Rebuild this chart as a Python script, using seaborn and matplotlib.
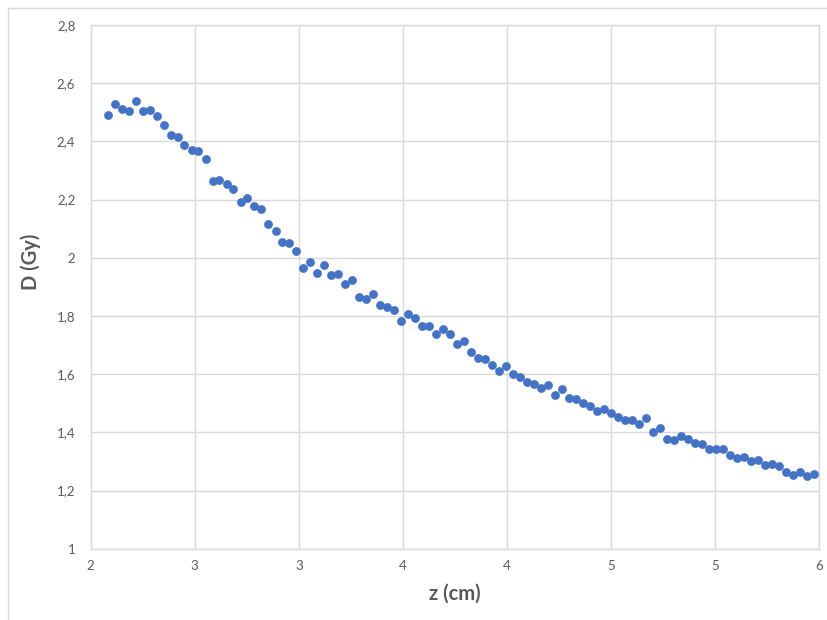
import numpy as np
import pandas as pd
import seaborn as sns
import matplotlib.pyplot as plt
from matplotlib.lines import Line2D

# depth z (cm) and dose D (Gy)
z_cm = [2.093, 2.131, 2.170, 2.208, 2.247, 2.285, 2.323, 2.362, 2.400, 2.439,
        2.477, 2.515, 2.554, 2.592, 2.631, 2.669, 2.707, 2.746, 2.784, 2.823,
        2.861, 2.899, 2.938, 2.976, 3.015, 3.053, 3.091, 3.130, 3.168, 3.207,
        3.245, 3.283, 3.322, 3.360, 3.399, 3.437, 3.475, 3.514, 3.552, 3.591,
        3.629, 3.667, 3.706, 3.744, 3.783, 3.821, 3.859, 3.898, 3.936, 3.975,
        4.013, 4.051, 4.090, 4.128, 4.167, 4.205, 4.243, 4.282, 4.320, 4.359,
        4.397, 4.435, 4.474, 4.512, 4.551, 4.589, 4.627, 4.666, 4.704, 4.743,
        4.781, 4.819, 4.858, 4.896, 4.935, 4.973, 5.011, 5.050, 5.088, 5.127,
        5.165, 5.203, 5.242, 5.280, 5.319, 5.357, 5.395, 5.434, 5.472, 5.511,
        5.549, 5.587, 5.626, 5.664, 5.703, 5.741, 5.779, 5.818, 5.856, 5.895,
        5.933, 5.971]

dose_gy = [2.492, 2.527, 2.510, 2.506, 2.540, 2.506, 2.507, 2.486, 2.456, 2.423,
           2.414, 2.389, 2.369, 2.367, 2.341, 2.264, 2.267, 2.254, 2.235, 2.191,
           2.207, 2.177, 2.168, 2.117, 2.092, 2.055, 2.051, 2.022, 1.965, 1.985,
           1.949, 1.976, 1.942, 1.945, 1.909, 1.924, 1.865, 1.858, 1.875, 1.837,
           1.830, 1.822, 1.784, 1.807, 1.792, 1.767, 1.766, 1.737, 1.755, 1.739,
           1.705, 1.715, 1.677, 1.657, 1.651, 1.631, 1.611, 1.629, 1.601, 1.590,
           1.573, 1.567, 1.554, 1.562, 1.527, 1.550, 1.518, 1.516, 1.500, 1.492,
           1.473, 1.479, 1.467, 1.451, 1.442, 1.443, 1.430, 1.448, 1.402, 1.416,
           1.378, 1.374, 1.387, 1.377, 1.364, 1.361, 1.341, 1.344, 1.341, 1.323,
           1.311, 1.314, 1.301, 1.305, 1.288, 1.292, 1.285, 1.262, 1.254, 1.265,
           1.250, 1.256]

x_ticks = [2 + k * 4 / 7 for k in range(8)]
x_labels = ['2', '3', '3', '4', '4', '5', '5', '6']
y_ticks = [1.0, 1.2, 1.4, 1.6, 1.8, 2.0, 2.2, 2.4, 2.6, 2.8]
y_labels = ['1', '1,2', '1,4', '1,6', '1,8', '2', '2,2', '2,4', '2,6', '2,8']

df = pd.DataFrame({'z': z_cm, 'D': dose_gy})

sns.set_theme(style='white')
plt.rcParams['font.family'] = ['Lato', 'DejaVu Sans']

grid_col = '#D9D9D9'
text_col = '#595959'

fig = plt.figure(figsize=(8.27, 6.20), dpi=100)
ax = fig.add_axes([90.7 / 827, 1 - 548.7 / 620, (819 - 90.7) / 827, (548.7 - 25) / 620])

sns.scatterplot(data=df, x='z', y='D', ax=ax, color='#4472C4', s=40,
                linewidth=0, zorder=3)

ax.set_xlim(2, 6)
ax.set_ylim(1, 2.8)
ax.set_xticks(x_ticks)
ax.set_xticklabels(x_labels)
ax.set_yticks(y_ticks)
ax.set_yticklabels(y_labels)
ax.tick_params(axis='both', length=0, labelsize=9.5, labelcolor=text_col)
ax.tick_params(axis='y', pad=11)
ax.tick_params(axis='x', pad=8)

ax.grid(True, color=grid_col, linewidth=1)
ax.set_axisbelow(True)
for sp in ax.spines.values():
    sp.set_color(grid_col)
    sp.set_linewidth(1)

ax.set_xlabel('z (cm)', fontsize=14.5, fontweight='bold', color=text_col)
ax.set_ylabel('D (Gy)', fontsize=14.5, fontweight='bold', color=text_col)
ax.xaxis.label.set_va('center')
ax.yaxis.label.set_va('center')
ax.xaxis.set_label_coords(0.5, -(594 - 548.7) / 523.7)
ax.yaxis.set_label_coords((31 - 90.7) / 728.3, 1 - (262 - 25) / 523.7)

# chart frame (only top and left edges are inside the picture)
fx = 8 / 827
fy = 1 - 8 / 620
fig.add_artist(Line2D([fx, fx], [0, fy], transform=fig.transFigure, color=grid_col, lw=1))
fig.add_artist(Line2D([fx, 1], [fy, fy], transform=fig.transFigure, color=grid_col, lw=1))

fig.savefig('out.png', dpi=100)
